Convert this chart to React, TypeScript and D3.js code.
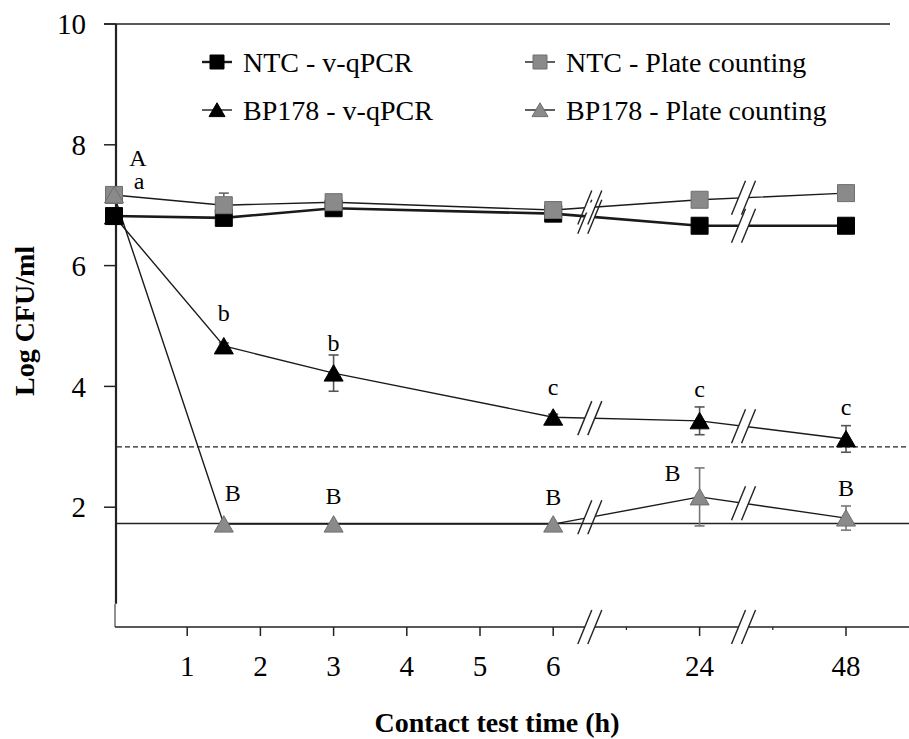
import React, { useEffect, useRef } from 'react';
import * as d3 from 'd3';

// sampling times (h)
const times = [0, 1.5, 3, 6, 24, 48];

// series values (log CFU/ml) and error bars
const ntcQpcr = [6.82, 6.79, 6.95, 6.86, 6.66, 6.66];
const ntcQpcrErr = [0.05, 0.05, 0.05, 0.05, 0.08, 0.08];
const ntcPlate = [7.17, 7.0, 7.05, 6.92, 7.09, 7.2];
const ntcPlateErr = [0.05, 0.2, 0.05, 0.05, 0.05, 0.05];
const bpQpcr = [6.82, 4.67, 4.22, 3.49, 3.43, 3.13];
const bpQpcrErr = [0.05, 0.05, 0.3, 0.05, 0.23, 0.22];
const bpPlate = [7.17, 1.72, 1.72, 1.72, 2.17, 1.82];
const bpPlateErr = [0, 0, 0, 0, 0.48, 0.2];

// reference lines
const qpcrLimit = 3.0;
const plateLimit = 1.73;

// axis ticks
const xTickTimes = [1, 2, 3, 4, 5, 6, 24, 48];
const xTickLabels = ['1', '2', '3', '4', '5', '6', '24', '48'];
const yTicks = [2, 4, 6, 8, 10];

// significance letters: [letter, time, value, x offset]
const letters: [string, number, number, number][] = [
  ['A', 0, 7.78, 24],
  ['a', 0, 7.4, 25],
  ['b', 1.5, 5.23, 0],
  ['b', 3, 4.72, 0],
  ['c', 6, 3.99, 0],
  ['c', 24, 3.97, 0],
  ['c', 48, 3.66, 0],
  ['B', 1.5, 2.24, 9],
  ['B', 3, 2.2, 0],
  ['B', 6, 2.17, 0],
  ['B', 24, 2.58, -27],
  ['B', 48, 2.33, 0],
];

const legendNames = ['NTC - v-qPCR', 'NTC - Plate counting', 'BP178 - v-qPCR', 'BP178 - Plate counting'];

const GRAY = '#8a8a8a';
const FONT = '"Liberation Serif", "Times New Roman", serif';

const App = () => {
  const ref = useRef<SVGSVGElement>(null);

  useEffect(() => {
    const svg = d3.select(ref.current);
    svg.selectAll('*').remove();

    const width = 909;
    const height = 739;

    // hours -> axis slot (axis is broken after 6 h)
    const slot = d3.scaleLinear().domain([0, 6, 24, 48]).range([0, 6, 8, 10]);
    const xSlot = d3.scaleLinear().domain([0, 10]).range([114, 846]);
    const x = (t: number) => xSlot(slot(t));
    const y = d3.scaleLinear().domain([0, 10]).range([628, 24]);
    const breakSlots = [6.5, 8.6];
    const xAxisY = 627;

    svg.append('rect').attr('width', width).attr('height', height).attr('fill', '#fff');

    // frame top line + y axis
    svg.append('line')
      .attr('x1', 104).attr('x2', 890).attr('y1', y(10)).attr('y2', y(10))
      .attr('stroke', '#222').attr('stroke-width', 1.5);
    svg.append('line')
      .attr('x1', 116).attr('x2', 116).attr('y1', y(10)).attr('y2', y(0.4))
      .attr('stroke', '#222').attr('stroke-width', 2.2);
    svg.append('line')
      .attr('x1', 115).attr('x2', 115).attr('y1', y(0.4)).attr('y2', xAxisY)
      .attr('stroke', '#222').attr('stroke-width', 1);

    yTicks.forEach(v => {
      svg.append('line')
        .attr('x1', 104).attr('x2', 116).attr('y1', y(v)).attr('y2', y(v))
        .attr('stroke', '#222').attr('stroke-width', 1.5);
      svg.append('text')
        .attr('x', 86).attr('y', y(v)).attr('dy', '0.35em')
        .attr('text-anchor', 'end')
        .attr('font-family', FONT).attr('font-size', 29)
        .text(v);
    });

    // x axis
    svg.append('line')
      .attr('x1', 115).attr('x2', width).attr('y1', xAxisY).attr('y2', xAxisY)
      .attr('stroke', '#222').attr('stroke-width', 1.5);
    xTickTimes.forEach((t, i) => {
      svg.append('line')
        .attr('x1', x(t)).attr('x2', x(t)).attr('y1', xAxisY).attr('y2', xAxisY + 9)
        .attr('stroke', '#222').attr('stroke-width', 1.5);
      svg.append('text')
        .attr('x', x(t)).attr('y', 676)
        .attr('text-anchor', 'middle')
        .attr('font-family', FONT).attr('font-size', 29)
        .text(xTickLabels[i]);
    });
    [7, 9].forEach(s => {
      svg.append('line')
        .attr('x1', xSlot(s)).attr('x2', xSlot(s)).attr('y1', xAxisY).attr('y2', xAxisY + 3)
        .attr('stroke', '#222').attr('stroke-width', 1.2);
    });

    // detection limit lines
    svg.append('line')
      .attr('x1', 117).attr('x2', width).attr('y1', y(qpcrLimit)).attr('y2', y(qpcrLimit))
      .attr('stroke', '#222').attr('stroke-width', 1.3).attr('stroke-dasharray', '5,3');
    svg.append('line')
      .attr('x1', 117).attr('x2', width).attr('y1', y(plateLimit)).attr('y2', y(plateLimit))
      .attr('stroke', '#222').attr('stroke-width', 1.3);

    const series = [
      { vals: ntcQpcr, err: ntcQpcrErr, shape: 'square', fill: '#000', stroke: '#000', lw: 2.6, ec: '#333' },
      { vals: ntcPlate, err: ntcPlateErr, shape: 'square', fill: GRAY, stroke: '#6f6f6f', lw: 1.4, ec: '#666' },
      { vals: bpQpcr, err: bpQpcrErr, shape: 'triangle', fill: '#000', stroke: '#000', lw: 1.4, ec: '#555' },
      { vals: bpPlate, err: bpPlateErr, shape: 'triangle', fill: GRAY, stroke: '#6f6f6f', lw: 1.4, ec: '#777' },
    ];

    const line = d3.line<number>().x((_, i) => x(times[i])).y(v => y(v));

    // break marks (double slash) drawn over a line at pixel (bx, by)
    const drawBreak = (bx: number, by: number, half: number) => {
      const k = 7 / 17;
      const h = 5;
      svg.append('polygon')
        .attr('points', [
          [bx - 5 - h * k, by + h], [bx - 5 + h * k, by - h],
          [bx + 5 + h * k, by - h], [bx + 5 - h * k, by + h],
        ].map(p => p.join(',')).join(' '))
        .attr('fill', '#fff');
      [-5, 5].forEach(o => {
        svg.append('line')
          .attr('x1', bx + o - half * k).attr('y1', by + half)
          .attr('x2', bx + o + half * k).attr('y2', by - half)
          .attr('stroke', '#222').attr('stroke-width', 1.4);
      });
    };

    series.forEach(s => {
      svg.append('path')
        .attr('d', line(s.vals))
        .attr('fill', 'none')
        .attr('stroke', '#1a1a1a')
        .attr('stroke-width', s.lw);
    });

    series.forEach(s => {
      const px = times.map(t => x(t));
      const py = s.vals.map(v => y(v));
      breakSlots.forEach(b => {
        const bx = xSlot(b);
        const by = d3.scaleLinear().domain(px).range(py).clamp(true)(bx);
        drawBreak(bx, by, 17);
      });
    });
    breakSlots.forEach(b => drawBreak(xSlot(b), xAxisY, 17));

    // error bars
    series.forEach(s => {
      s.vals.forEach((v, i) => {
        if (!s.err[i]) return;
        const cx = x(times[i]);
        const g = svg.append('g').attr('stroke', s.ec).attr('stroke-width', 1.6);
        g.append('line').attr('x1', cx).attr('x2', cx).attr('y1', y(v - s.err[i])).attr('y2', y(v + s.err[i]));
        [v - s.err[i], v + s.err[i]].forEach(e => {
          g.append('line').attr('x1', cx - 5).attr('x2', cx + 5).attr('y1', y(e)).attr('y2', y(e));
        });
      });
    });

    const symbol = (shape: string, side: number) =>
      shape === 'square'
        ? d3.symbol().type(d3.symbolSquare).size(side * side)()
        : d3.symbol().type(d3.symbolTriangle).size((side * side * Math.sqrt(3)) / 4)();

    // markers
    series.forEach(s => {
      s.vals.forEach((v, i) => {
        const cy = s.shape === 'triangle' ? y(v) + 2.5 : y(v);
        svg.append('path')
          .attr('d', symbol(s.shape, s.shape === 'square' ? 17 : 19))
          .attr('transform', `translate(${x(times[i])},${cy})`)
          .attr('fill', s.fill)
          .attr('stroke', s.stroke)
          .attr('stroke-width', 1);
      });
    });

    // significance letters
    letters.forEach(([l, t, v, dx]) => {
      svg.append('text')
        .attr('x', x(t) + dx).attr('y', y(v)).attr('dy', '0.35em')
        .attr('text-anchor', 'middle')
        .attr('font-family', FONT).attr('font-size', 24)
        .text(l);
    });

    // legend
    const legendPos = [[217, 62], [540, 62], [217, 110], [540, 110]];
    series.forEach((s, i) => {
      const [lx, ly] = legendPos[i];
      svg.append('line')
        .attr('x1', lx - 15).attr('x2', lx + 15).attr('y1', ly).attr('y2', ly)
        .attr('stroke', '#1a1a1a').attr('stroke-width', i === 0 ? 2.4 : 1.4);
      svg.append('path')
        .attr('d', symbol(s.shape, s.shape === 'square' ? 14 : 16))
        .attr('transform', `translate(${lx},${s.shape === 'triangle' ? ly + 2 : ly})`)
        .attr('fill', s.fill).attr('stroke', s.stroke).attr('stroke-width', 1);
      svg.append('text')
        .attr('x', lx + 26).attr('y', ly).attr('dy', '0.35em')
        .attr('font-family', FONT).attr('font-size', 28)
        .text(legendNames[i]);
    });

    // axis titles
    svg.append('text')
      .attr('x', 497).attr('y', 732)
      .attr('text-anchor', 'middle')
      .attr('font-family', FONT).attr('font-size', 28).attr('font-weight', 'bold')
      .text('Contact test time (h)');
    svg.append('text')
      .attr('transform', 'translate(34,321) rotate(-90)')
      .attr('text-anchor', 'middle')
      .attr('font-family', FONT).attr('font-size', 28).attr('font-weight', 'bold')
      .text('Log CFU/ml');
  }, []);

  return (
    <svg ref={ref} width={909} height={739} style={{ position: 'absolute', left: 0, top: 0 }} />
  );
};

export default App;
